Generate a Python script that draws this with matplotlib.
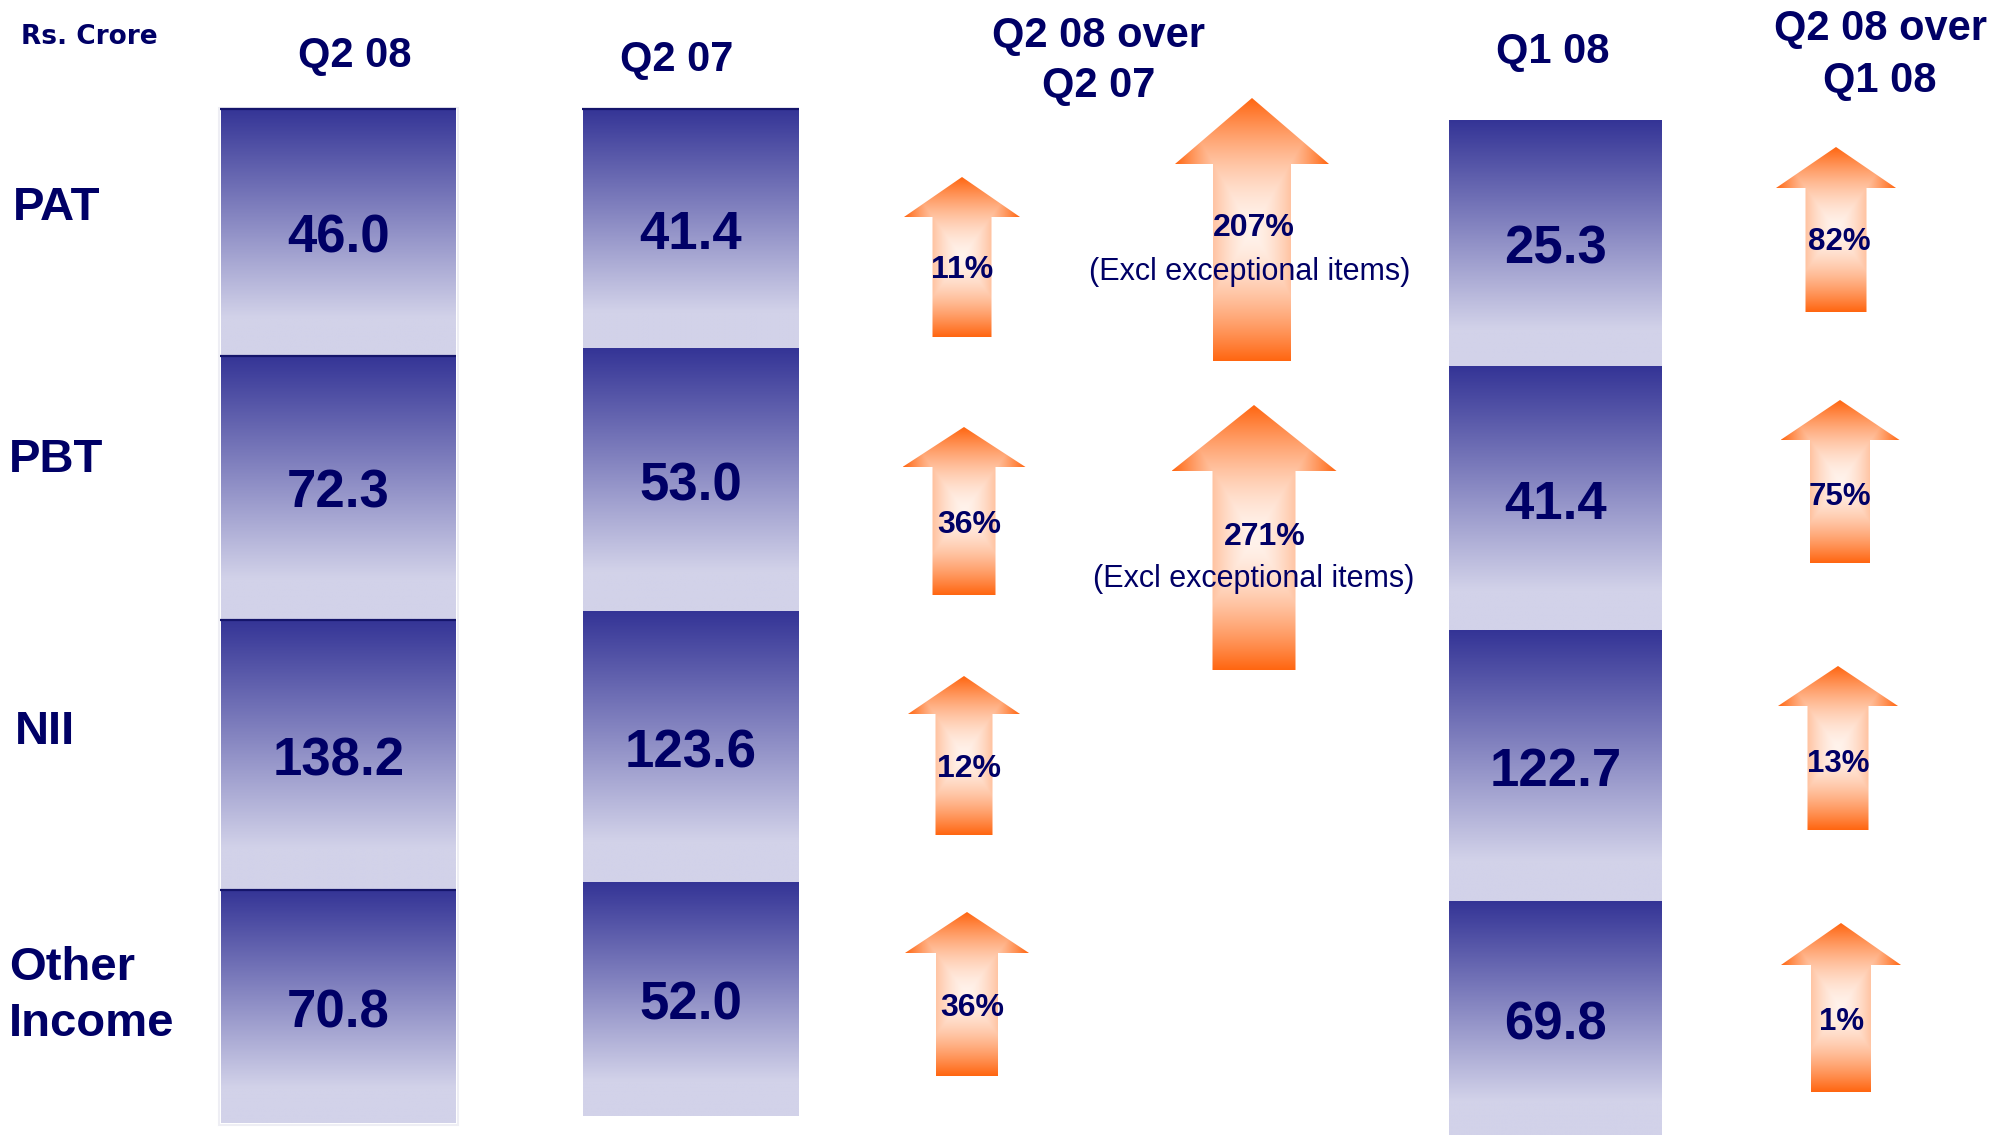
import numpy as np
import matplotlib
matplotlib.use("Agg")
import matplotlib.pyplot as plt
from matplotlib.patches import Polygon, Rectangle

# ---------------- data ----------------
metrics = ["PAT", "PBT", "NII", "Other\nIncome"]
periods = ["Q2 08", "Q2 07", "Q1 08"]
q2_08 = [46.0, 72.3, 138.2, 70.8]
q2_07 = [41.4, 53.0, 123.6, 52.0]
q1_08 = [25.3, 41.4, 122.7, 69.8]
growth_yoy = [11, 36, 12, 36]          # Q2 08 over Q2 07
growth_yoy_excl = [207, 271]           # PAT, PBT excl exceptional items
growth_qoq = [82, 75, 13, 1]           # Q2 08 over Q1 08
comparison_headers = ["Q2 08 over\nQ2 07", "Q2 08 over\nQ1 08"]
unit_label = "Rs. Crore"
excl_note = "(Excl exceptional items)"

# ---------------- style / layout ----------------
W, H = 1992, 1135
NAVY = "#000066"
DARK = np.array([52, 52, 150]) / 255
LIGHT = np.array([210, 210, 233]) / 255
ORANGE = np.array([255, 102, 17]) / 255
PALE = np.array([255, 243, 236]) / 255
FONT = "Liberation Sans"

fig = plt.figure(figsize=(W / 100, H / 100), dpi=100)
ax = fig.add_axes([0, 0, 1, 1])
ax.axis("off")

# column boxes: x-range and row edges (pixel layout)
col_layout = [
    dict(x0=221, x1=456, edges=[108, 355, 619, 889, 1123], sep=True, top=True),
    dict(x0=583, x1=799, edges=[108, 348, 611, 882, 1116], sep=False, top=True),
    dict(x0=1449, x1=1662, edges=[120, 366, 630, 901, 1136], sep=False, top=False),
]
header_pos = [(355, [67]), (677, [71]), (1553, [63])]
comp_header_pos = [(1099, [47, 97]), (1880, [40, 92])]
label_pos = [(13, [220]), (9, [472]), (15, [744]), (9, [980, 1036])]

# arrows: (cx, tip_y, head_base_y, bottom_y, head_w, shaft_w)
yoy_arrows = [(962, 177, 217, 337, 116, 59), (964, 427, 467, 595, 123, 63),
              (964, 676, 714, 835, 112, 57), (967, 912, 953, 1076, 124, 62)]
yoy_text_pos = [(962, 278), (969, 533), (969, 777), (972, 1016)]
excl_arrows = [(1252, 98, 164, 361, 154, 78), (1254, 405, 471, 670, 165, 83)]
excl_text_pos = [((1254, 236), (1250, 280)), ((1265, 545), (1254, 587))]
qoq_arrows = [(1836, 147, 188, 312, 120, 61), (1840, 400, 440, 563, 119, 60),
              (1838, 666, 706, 830, 120, 61), (1841, 923, 965, 1092, 120, 60)]
qoq_text_pos = [(1839, 250), (1840, 505), (1838, 772), (1842, 1030)]


def draw_box(x0, x1, y0, y1):
    n = 300
    f = np.linspace(0, 1, n)
    s = np.clip(f / 0.85, 0, 1)
    col = DARK[None, :] * (1 - s[:, None]) + LIGHT[None, :] * s[:, None]
    img = np.repeat(col[:, None, :], 2, axis=1)
    ax.imshow(img, extent=(x0, x1, y1, y0), aspect="auto",
              interpolation="bilinear", zorder=1)


def draw_arrow(cx, tip, base, bottom, head_w, shaft_w):
    verts = [(cx, tip), (cx + head_w / 2, base), (cx + shaft_w / 2, base),
             (cx + shaft_w / 2, bottom), (cx - shaft_w / 2, bottom),
             (cx - shaft_w / 2, base), (cx - head_w / 2, base)]
    poly = Polygon(verts, closed=True, facecolor="none", edgecolor="none")
    ax.add_patch(poly)
    nx, ny = int(head_w) + 1, int(bottom - tip) + 1
    X, Y = np.meshgrid(np.linspace(-1, 1, nx), np.linspace(-1, 1, ny))
    t = np.maximum(np.abs(X), np.abs(Y)) ** 1.6
    img = PALE[None, None, :] * (1 - t[..., None]) + ORANGE[None, None, :] * t[..., None]
    im = ax.imshow(img, extent=(cx - head_w / 2, cx + head_w / 2, bottom, tip),
                   aspect="auto", interpolation="bilinear", zorder=2)
    im.set_clip_path(poly)


def txt(x, y, s, size, weight="bold", ha="center", family=FONT, z=5):
    ax.text(x, y, s, fontsize=size, fontweight=weight, ha=ha, va="baseline",
            color=NAVY, family=family, zorder=z)


# value columns
for lay, vals in zip(col_layout, [q2_08, q2_07, q1_08]):
    e = lay["edges"]
    for i, v in enumerate(vals):
        draw_box(lay["x0"], lay["x1"], e[i], e[i + 1])
        if lay["sep"] or (lay["top"] and i == 0):
            ax.plot([lay["x0"] - 1, lay["x1"]], [e[i] + 1, e[i] + 1],
                    color="#15156b", lw=1.6, zorder=3, solid_capstyle="butt")
        cx = (lay["x0"] + lay["x1"]) / 2
        txt(cx, (e[i] + e[i + 1]) / 2 + 21, f"{v:.1f}", 38)
    if lay["sep"]:
        ax.add_patch(Rectangle((lay["x0"] - 2, e[0]), lay["x1"] - lay["x0"] + 4,
                               e[-1] - e[0] + 2, facecolor="none",
                               edgecolor="#eeeef4", lw=1.5, zorder=0))

# headers
for (x, ys), p in zip(header_pos, periods):
    for y, line in zip(ys, p.split("\n")):
        txt(x, y, line, 30)
for (x, ys), p in zip(comp_header_pos, comparison_headers):
    for y, line in zip(ys, p.split("\n")):
        txt(x, y, line, 30)
txt(21, 44, unit_label, 19, ha="left", family="DejaVu Sans")

# row labels
for (x, ys), m in zip(label_pos, metrics):
    for y, line in zip(ys, m.split("\n")):
        txt(x, y, line, 34, ha="left")

# growth arrows
for a, (x, y), g in zip(yoy_arrows, yoy_text_pos, growth_yoy):
    draw_arrow(*a)
    txt(x, y, f"{g}%", 23)
for a, (p1, p2), g in zip(excl_arrows, excl_text_pos, growth_yoy_excl):
    draw_arrow(*a)
    txt(p1[0], p1[1], f"{g}%", 23)
    txt(p2[0], p2[1], excl_note, 22, weight="normal")
for a, (x, y), g in zip(qoq_arrows, qoq_text_pos, growth_qoq):
    draw_arrow(*a)
    txt(x, y, f"{g}%", 22.5)

ax.set_xlim(0, W)
ax.set_ylim(H, 0)
fig.savefig("out.png", dpi=100, facecolor="white")
